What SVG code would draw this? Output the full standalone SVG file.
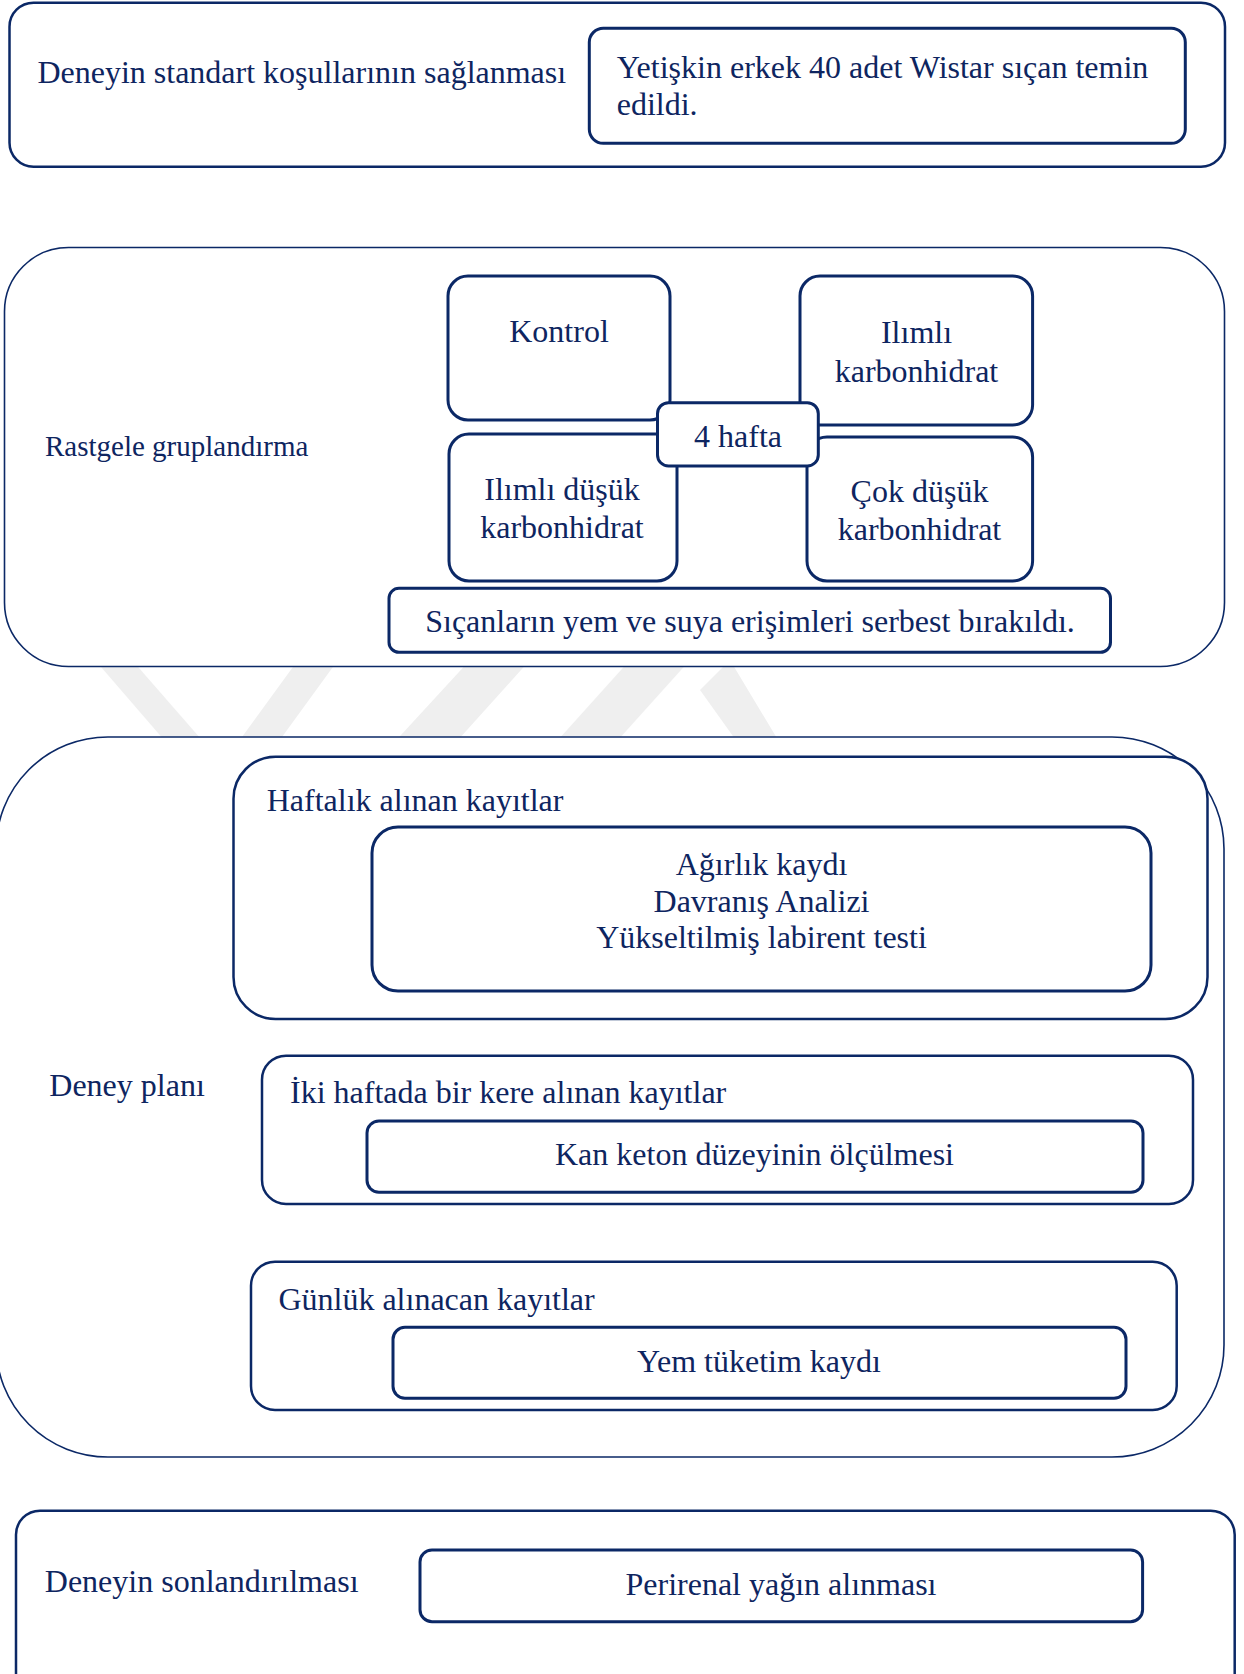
<svg xmlns="http://www.w3.org/2000/svg" width="1244" height="1674" viewBox="0 0 1244 1674">
<style>
.outer{fill:#fff;stroke:#0b2866;stroke-width:1.6}
.outerb{fill:#fff;stroke:#0b2866;stroke-width:2.5}
.box{fill:#fff;stroke:#0b2866;stroke-width:3}
.t{font-family:"Liberation Serif","Times New Roman",serif;font-size:32px;fill:#0e2560}
.c{text-anchor:middle}
.wm{fill:#efefef}
</style>
<g id="watermark">
<polygon class="wm" points="95,660 132,660 228,770 190,770"/>
<polygon class="wm" points="298,660 338,660 258,770 218,770"/>
<polygon class="wm" points="470,660 530,660 440,760 378,760"/>
<polygon class="wm" points="630,660 690,660 600,760 540,760"/>
<polygon class="wm" points="700,690 730,660 790,760 750,760"/>
</g>
<g id="n1">
<rect class="outerb" x="9.5" y="2.7" width="1215.5" height="164" rx="24"/>
<text class="t" x="37.4" y="83">Deneyin standart koşullarının sağlanması</text>
</g>
<g id="n1a">
<rect class="box" x="589.3" y="28.3" width="596" height="115" rx="14"/>
<text class="t" x="616.7" y="78">Yetişkin erkek 40 adet Wistar sıçan temin</text>
<text class="t" x="616.7" y="114.7">edildi.</text>
</g>
<g id="n2">
<rect class="outer" x="4.5" y="247.5" width="1220" height="419" rx="64"/>
<text class="t" x="45" y="456.3" style="font-size:29px">Rastgele gruplandırma</text>
</g>
<g id="n2-kontrol">
<rect class="box" x="448" y="276" width="222" height="144" rx="20"/>
<text class="t c" x="559" y="341.5">Kontrol</text>
</g>
<g id="n2-ilimli">
<rect class="box" x="800" y="276" width="232.6" height="149" rx="20"/>
<text class="t c" x="916.5" y="343.2">Ilımlı</text>
<text class="t c" x="916.5" y="381.5">karbonhidrat</text>
</g>
<g id="n2-ilimli-dusuk">
<rect class="box" x="449" y="434" width="228" height="147" rx="20"/>
<text class="t c" x="562" y="499.8">Ilımlı düşük</text>
<text class="t c" x="562" y="538.2">karbonhidrat</text>
</g>
<g id="n2-cok-dusuk">
<rect class="box" x="807" y="437" width="225.6" height="144" rx="20"/>
<text class="t c" x="919.5" y="501.5">Çok düşük</text>
<text class="t c" x="919.5" y="539.5">karbonhidrat</text>
</g>
<g id="n2-hafta">
<rect class="box" x="657.5" y="402.7" width="160.8" height="63.3" rx="11"/>
<text class="t c" x="738" y="446.5">4 hafta</text>
</g>
<g id="n2-serbest">
<rect class="box" x="389" y="588.3" width="721.5" height="64" rx="10"/>
<text class="t c" x="750" y="631.5">Sıçanların yem ve suya erişimleri serbest bırakıldı.</text>
</g>
<g id="n3">
<rect class="outer" x="-4" y="737" width="1228" height="720" rx="112"/>
<text class="t" x="49.3" y="1095.8">Deney planı</text>
</g>
<g id="n3-haftalik">
<rect class="outerb" x="233.5" y="756.7" width="974" height="262.3" rx="42"/>
<text class="t" x="266.7" y="810.8">Haftalık alınan kayıtlar</text>
</g>
<g id="n3-haftalik-in">
<rect class="box" x="372" y="827" width="779" height="164" rx="26"/>
<text class="t c" x="761.5" y="874.8">Ağırlık kaydı</text>
<text class="t c" x="761.5" y="911.5">Davranış Analizi</text>
<text class="t c" x="761.5" y="948.2">Yükseltilmiş labirent testi</text>
</g>
<g id="n3-iki">
<rect class="outerb" x="262" y="1055.7" width="931" height="148.3" rx="24"/>
<text class="t" x="290" y="1103.2">İki haftada bir kere alınan kayıtlar</text>
</g>
<g id="n3-iki-in">
<rect class="box" x="367" y="1121" width="776" height="71.3" rx="12"/>
<text class="t c" x="754.5" y="1164.8">Kan keton düzeyinin ölçülmesi</text>
</g>
<g id="n3-gunluk">
<rect class="outerb" x="251" y="1261.7" width="925.7" height="148.3" rx="24"/>
<text class="t" x="278.4" y="1309.8">Günlük alınacan kayıtlar</text>
</g>
<g id="n3-gunluk-in">
<rect class="box" x="393" y="1327.3" width="733" height="71" rx="12"/>
<text class="t c" x="759" y="1371.5">Yem tüketim kaydı</text>
</g>
<g id="n4">
<rect class="outerb" x="16" y="1510.7" width="1218.7" height="200" rx="24"/>
<text class="t" x="44.8" y="1591.5">Deneyin sonlandırılması</text>
</g>
<g id="n4-in">
<rect class="box" x="420" y="1550" width="722.6" height="71.7" rx="12"/>
<text class="t c" x="781" y="1594.8">Perirenal yağın alınması</text>
</g>
<g id="connectors"></g>
</svg>
